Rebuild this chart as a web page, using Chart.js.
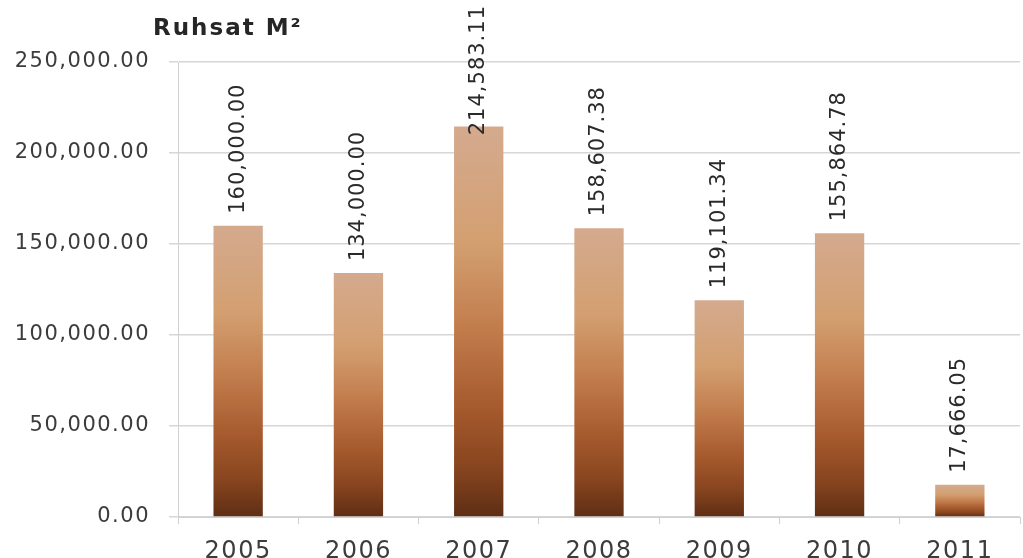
<!DOCTYPE html>
<html>
<head>
<meta charset="utf-8">
<title>Ruhsat M²</title>
<script src="https://cdn.jsdelivr.net/npm/chart.js@4/dist/chart.umd.min.js"></script>
<style>
  html, body { margin: 0; padding: 0; background: #ffffff; }
  #wrap { position: relative; width: 1023px; height: 558px; }
</style>
</head>
<body>
<div id="wrap"><canvas id="chart"></canvas></div>
<script>
// Permit area (m²) per year
const years = ['2005', '2006', '2007', '2008', '2009', '2010', '2011'];
const areas = [160000.00, 134000.00, 214583.11, 158607.38, 119101.34, 155864.78, 17666.05];
const yTicks = [0, 50000, 100000, 150000, 200000, 250000];
const chartTitle = 'Ruhsat M²';

const fmt = v => Number(v).toLocaleString('en-US', { minimumFractionDigits: 2, maximumFractionDigits: 2 });

// Each bar gets its own top-to-bottom tan → copper → dark brown fill
function barFill(ctx) {
  const chart = ctx.chart;
  if (!chart.chartArea || ctx.type !== 'data') return '#b8703e';
  const ys = chart.scales.y;
  const top = ys.getPixelForValue(ctx.parsed ? ctx.parsed.y : areas[ctx.dataIndex]);
  const bottom = ys.getPixelForValue(0);
  if (!isFinite(top) || !isFinite(bottom) || bottom - top < 1) return '#b8703e';
  const g = chart.ctx.createLinearGradient(0, top, 0, bottom);
  g.addColorStop(0, '#d4aa8e');
  g.addColorStop(0.3, '#d39f70');
  g.addColorStop(0.5, '#c47f4f');
  g.addColorStop(0.72, '#a65a2d');
  g.addColorStop(0.87, '#88451f');
  g.addColorStop(1, '#5e2e14');
  return g;
}

// Title drawn at the top left, above the value axis
const titlePlugin = {
  id: 'cornerTitle',
  afterDraw(chart) {
    const c = chart.ctx;
    c.save();
    c.font = 'bold 23px "DejaVu Sans", sans-serif';
    c.letterSpacing = '2px';
    c.fillStyle = '#262626';
    c.textAlign = 'left';
    c.textBaseline = 'alphabetic';
    c.fillText(chartTitle, 153, 35);
    c.restore();
  }
};

// Slightly spaced lettering for all axis text
const spacing = {
  id: 'spacing',
  beforeDraw(chart) { chart.ctx.letterSpacing = '1.5px'; },
  afterDraw(chart) { chart.ctx.letterSpacing = '0px'; }
};

// Vertical value labels above each bar, kept inside the canvas top
const valueLabels = {
  id: 'valueLabels',
  afterDatasetsDraw(chart) {
    const c = chart.ctx;
    const meta = chart.getDatasetMeta(0);
    c.save();
    c.font = '21px "DejaVu Sans", sans-serif';
    c.letterSpacing = '1px';
    c.fillStyle = '#2a2a2a';
    c.textAlign = 'left';
    c.textBaseline = 'middle';
    meta.data.forEach((bar, i) => {
      const text = fmt(areas[i]);
      const w = c.measureText(text).width;
      let start = bar.y - 12;
      if (start - w < 5) start = 5 + w;
      c.save();
      c.translate(bar.x, start);
      c.rotate(-Math.PI / 2);
      c.fillText(text, 0, 0);
      c.restore();
    });
    c.restore();
  }
};

new Chart(document.getElementById('chart'), {
  type: 'bar',
  data: {
    labels: years,
    datasets: [{
      data: areas,
      backgroundColor: barFill,
      borderWidth: 0,
      barPercentage: 0.41,
      categoryPercentage: 1.0
    }]
  },
  options: {
    responsive: true,
    maintainAspectRatio: false,
    animation: false,
    devicePixelRatio: 1,
    layout: { padding: { top: 62, right: 3, bottom: 0, left: 0 } },
    plugins: {
      legend: { display: false },
      tooltip: { enabled: false },
      title: { display: false }
    },
    scales: {
      x: {
        grid: {
          display: true,
          drawOnChartArea: false,
          drawTicks: true,
          tickLength: 7,
          color: '#d0d0d0',
          offset: true
        },
        border: { display: true, color: '#d0d0d0', width: 1 },
        ticks: {
          color: '#3c3c3c',
          font: { family: '"DejaVu Sans", sans-serif', size: 24 },
          padding: 13,
          maxRotation: 0,
          autoSkip: false
        },
        afterFit(scale) { scale.height = 41; }
      },
      y: {
        min: 0,
        max: 250000,
        afterBuildTicks(scale) { scale.ticks = yTicks.map(v => ({ value: v })); },
        grid: {
          color: '#d6d6d6',
          lineWidth: 1.5,
          drawTicks: true,
          tickLength: 9
        },
        border: { display: true, color: '#d0d0d0', width: 1 },
        ticks: {
          color: '#3c3c3c',
          font: { family: '"DejaVu Sans", sans-serif', size: 21 },
          padding: 19,
          callback: v => fmt(v)
        },
        afterFit(scale) { scale.width = 178; }
      }
    }
  },
  plugins: [spacing, valueLabels, titlePlugin]
});
</script>
</body>
</html>
